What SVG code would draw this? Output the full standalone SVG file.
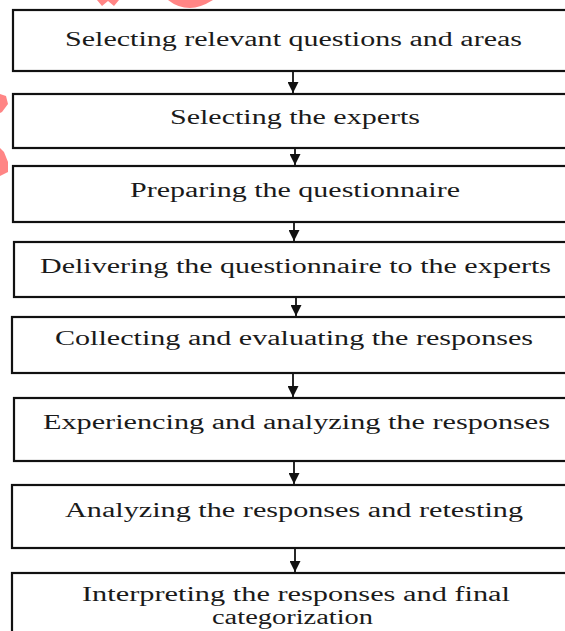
<svg xmlns="http://www.w3.org/2000/svg" width="565" height="631" viewBox="0 0 565 631">
<defs>
<style>
.box{fill:#fff;stroke:#111;stroke-width:2.2}
.lbl{font-family:"Liberation Serif","Times New Roman",serif;font-size:20px;fill:#1a1a1a}
.con{stroke:#111;stroke-width:1.8;fill:none}
.wm{fill:#ff8585}
</style>
<marker id="ah" viewBox="0 0 10 10" refX="10" refY="5" markerWidth="11" markerHeight="11" markerUnits="userSpaceOnUse" orient="auto">
<path d="M0,0 L10,5 L0,10 Z" fill="#111"/>
</marker>
</defs>
<rect width="565" height="631" fill="#fff"/>
<g id="watermark">
<path class="wm" d="M97,0 L119,0 L114,6 L108,1 L102,6 Z"/>
<path class="wm" d="M168,0 L213,0 Q200,8 190,8 Q178,8 168,0 Z"/>
<path class="wm" d="M0,94 L6,96 L8,104 L2,112 L0,113 Z"/>
<path class="wm" d="M0,148 L4,152 L8,162 L8,172 L0,176 Z"/>
</g>
<g id="n1"><rect class="box" x="13" y="10" width="560" height="61"/><text class="lbl" x="65" y="46" textLength="457" lengthAdjust="spacingAndGlyphs">Selecting relevant questions and areas</text></g>
<g id="n2"><rect class="box" x="13" y="94" width="560" height="54"/><text class="lbl" x="170" y="124" textLength="250" lengthAdjust="spacingAndGlyphs">Selecting the experts</text></g>
<g id="n3"><rect class="box" x="13" y="166" width="560" height="56"/><text class="lbl" x="130" y="197" textLength="330" lengthAdjust="spacingAndGlyphs">Preparing the questionnaire</text></g>
<g id="n4"><rect class="box" x="14" y="242" width="560" height="55"/><text class="lbl" x="40" y="273" textLength="511" lengthAdjust="spacingAndGlyphs">Delivering the questionnaire to the experts</text></g>
<g id="n5"><rect class="box" x="12" y="317" width="560" height="56"/><text class="lbl" x="55" y="345" textLength="478" lengthAdjust="spacingAndGlyphs">Collecting and evaluating the responses</text></g>
<g id="n6"><rect class="box" x="14" y="398" width="560" height="63"/><text class="lbl" x="43" y="429" textLength="507" lengthAdjust="spacingAndGlyphs">Experiencing and analyzing the responses</text></g>
<g id="n7"><rect class="box" x="12" y="485" width="560" height="63"/><text class="lbl" x="65" y="517" textLength="458" lengthAdjust="spacingAndGlyphs">Analyzing the responses and retesting</text></g>
<g id="n8"><rect class="box" x="12" y="573" width="560" height="70"/><text class="lbl" x="82" y="601" textLength="428" lengthAdjust="spacingAndGlyphs">Interpreting the responses and final</text><text class="lbl" x="212" y="624" textLength="161" lengthAdjust="spacingAndGlyphs">categorization</text></g>
<g id="connectors">
<line class="con" x1="293" y1="72" x2="293" y2="93" marker-end="url(#ah)"/>
<line class="con" x1="295" y1="149" x2="295" y2="165" marker-end="url(#ah)"/>
<line class="con" x1="294" y1="223" x2="294" y2="241" marker-end="url(#ah)"/>
<line class="con" x1="296" y1="298" x2="296" y2="316" marker-end="url(#ah)"/>
<line class="con" x1="293" y1="374" x2="293" y2="397" marker-end="url(#ah)"/>
<line class="con" x1="294" y1="462" x2="294" y2="484" marker-end="url(#ah)"/>
<line class="con" x1="295" y1="549" x2="295" y2="572" marker-end="url(#ah)"/>
</g>
</svg>
